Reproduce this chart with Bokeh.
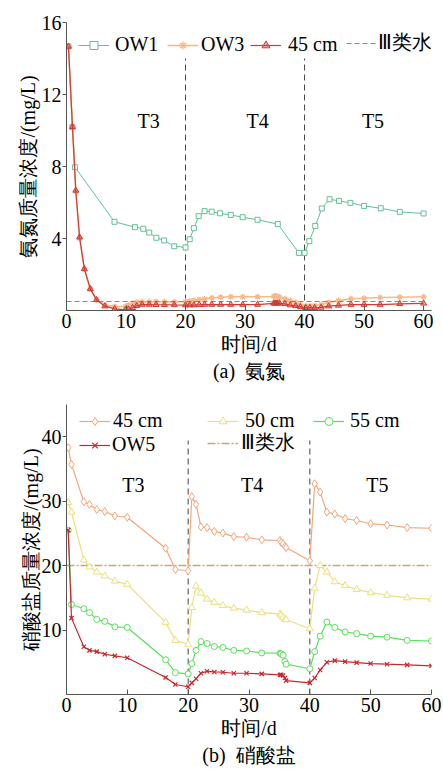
from bokeh.plotting import figure
from bokeh.models import Range1d, FixedTicker, Legend, LegendItem, Label
from bokeh.layouts import column
from bokeh.embed import file_html
from bokeh.resources import INLINE

SERIF = "Liberation Serif"
FS = "20px"

# ---------------- (a) ammonia nitrogen ----------------
ow1_day = [0.33, 1.0, 1.44, 8.06, 11.5, 12.9, 13.9, 15.1, 16.4, 18.1, 20.0, 20.7, 21.4,
           22.2, 23.2, 24.4, 25.8, 27.6, 29.6, 32.1, 35.5, 39.05, 40.0, 40.8, 41.8, 42.9,
           44.2, 45.8, 47.7, 50.0, 52.8, 56.0, 60.0]
ow1_nh4 = [14.67, 10.2, 7.96, 4.93, 4.63, 4.54, 4.33, 4.04, 3.89, 3.57, 3.5, 3.96, 4.57,
           5.24, 5.52, 5.49, 5.4, 5.31, 5.18, 5.04, 4.8, 3.2, 3.2, 3.85, 4.7, 5.67,
           6.18, 6.09, 5.98, 5.81, 5.68, 5.48, 5.39]
a_day = [0.33, 1.0, 1.56, 2.2, 3.0, 4.0, 5.05, 6.45, 8.1, 9.9, 10.4, 11.1, 11.8, 12.7,
         13.9, 15.05, 16.45, 18.1, 20.0, 20.7, 21.4, 22.3, 23.2, 24.4, 25.9, 27.6, 29.6,
         32.1, 34.8, 35.0, 35.2, 35.5, 35.8, 36.7, 37.6, 38.5, 39.3, 40.2, 40.9, 41.7,
         42.8, 44.05, 45.7, 47.8, 50.0, 52.7, 56.0, 60.0]
ow3_nh4 = [14.67, 10.2, 6.6, 4.0, 2.3, 1.2, 0.6, 0.3, 0.22, 0.22, 0.3, 0.4, 0.46, 0.48,
           0.48, 0.5, 0.48, 0.48, 0.5, 0.53, 0.56, 0.6, 0.64, 0.7, 0.74, 0.76, 0.76,
           0.76, 0.78, 0.8, 0.8, 0.78, 0.74, 0.65, 0.55, 0.45, 0.33, 0.26, 0.26, 0.27,
           0.33, 0.45, 0.55, 0.65, 0.68, 0.72, 0.74, 0.76]
cm45_nh4 = [14.67, 10.2, 6.67, 4.07, 2.31, 1.2, 0.59, 0.24, 0.09, 0.04, 0.07, 0.15, 0.26,
            0.33, 0.33, 0.32, 0.32, 0.31, 0.30, 0.30, 0.30, 0.32, 0.33, 0.33, 0.33, 0.33,
            0.33, 0.33, 0.40, 0.40, 0.40, 0.40, 0.40, 0.37, 0.30, 0.26, 0.20, 0.15, 0.15,
            0.15, 0.17, 0.24, 0.28, 0.33, 0.33, 0.33, 0.37, 0.40]
std_nh4 = 0.5

# ---------------- (b) nitrate ----------------
b_day = [0.28, 0.82, 2.85, 3.78, 4.98, 6.3, 7.95, 9.98, 16.3, 17.9, 20.0, 20.6, 21.3, 22.1,
         23.1, 24.3, 25.7, 27.5, 29.6, 32.1, 35.1, 35.3, 35.6, 35.9, 36.1, 40.0, 40.8, 41.7,
         42.8, 44.1, 45.8, 47.7, 50.0, 52.7, 56.0, 60.0]
cm45_no3 = [38.3, 35.7, 29.9, 29.5, 28.7, 28.4, 27.7, 27.5, 22.7, 19.4, 19.2, 30.7, 29.5,
            26.0, 25.9, 25.3, 25.05, 24.5, 24.4, 24.0, 23.9, 23.6, 23.4, 23.0, 22.8, 20.75,
            32.7, 31.4, 28.3, 28.0, 27.3, 27.0, 26.5, 26.3, 25.9, 25.8]
cm50_no3 = [29.8, 28.3, 20.9, 19.8, 19.0, 18.4, 17.6, 17.1, 11.2, 8.4, 7.8, 13.5, 16.8,
            15.75, 14.8, 14.3, 13.8, 13.4, 13.1, 12.7, 12.5, 12.3, 12.0, 11.7, 11.6, 10.2,
            16.5, 20.0, 19.0, 17.5, 16.9, 16.3, 15.8, 15.4, 15.0, 14.8]
cm55_no3 = [25.5, 13.96, 13.3, 12.7, 11.65, 11.35, 10.5, 10.4, 5.4, 3.4, 3.2, 4.8, 6.85,
            8.2, 7.9, 7.45, 7.3, 6.85, 6.75, 6.45, 6.4, 6.3, 6.1, 5.1, 4.7, 4.0, 6.65,
            9.05, 11.25, 10.4, 9.7, 9.45, 9.05, 8.9, 8.4, 8.3]
ow5_no3 = [25.5, 11.85, 7.4, 6.85, 6.65, 6.25, 6.0, 5.7, 2.65, 1.55, 1.2, 1.8, 2.45, 3.3,
           3.6, 3.5, 3.45, 3.3, 3.3, 3.2, 3.05, 3.05, 2.95, 2.55, 2.15, 1.8, 2.55, 3.8,
           5.0, 5.25, 5.1, 4.95, 4.8, 4.7, 4.6, 4.45]
std_no3 = 20

phase_bounds = [20, 40]
phase_names = ["T3", "T4", "T5"]
x_ticks = [0, 10, 20, 30, 40, 50, 60]
ya_ticks = [4, 8, 12, 16]
yb_ticks = [10, 20, 30, 40]
xlabel = "时间/d"
ya_label = "氨氮质量浓度/(mg/L)"
yb_label = "硝酸盐质量浓度/(mg/L)"
cap_a = "(a)\u00a0\u00a0氨氮"
cap_b = "(b)\u00a0\u00a0硝酸盐"


def style(p, xt, yt, ylab_standoff):
    p.outline_line_color = None
    p.grid.visible = False
    p.background_fill_color = "white"
    p.border_fill_color = "white"
    xa = p.xaxis[0]
    ya = p.yaxis[0]
    for ax in (xa, ya):
        ax.axis_line_color = "#555555"
        ax.major_tick_line_color = "#555555"
        ax.minor_tick_line_color = None
        ax.major_label_text_font = SERIF
        ax.major_label_text_font_size = FS
        ax.major_label_text_color = "black"
        ax.axis_label_text_font = SERIF
        ax.axis_label_text_font_size = FS
        ax.axis_label_text_font_style = "normal"
        ax.axis_label_text_color = "black"
    xa.ticker = FixedTicker(ticks=xt)
    ya.ticker = FixedTicker(ticks=yt)
    xa.major_tick_in = 5
    xa.major_tick_out = 0
    ya.major_tick_in = 0
    ya.major_tick_out = 4
    xa.major_label_standoff = 3
    ya.major_label_standoff = 1
    xa.axis_label_standoff = 2
    xa.axis_label_text_line_height = 1.25
    ya.axis_label_standoff = ylab_standoff


def add_leg(p, label, renderers, x, y, standoff):
    leg = Legend(items=[LegendItem(label=label, renderers=renderers)],
                 location=(x, y), orientation="horizontal", padding=0, margin=0,
                 spacing=0, glyph_width=31, glyph_height=20, label_height=20,
                 label_standoff=standoff, label_text_font=SERIF, label_text_font_size=FS,
                 label_text_color="black", background_fill_alpha=0, border_line_alpha=0)
    p.add_layout(leg, "center")


# ---------- figure (a) ----------
pa = figure(width=443, height=385, x_range=Range1d(0, 61.33), y_range=Range1d(0, 16),
            output_backend="svg", toolbar_location=None,
            min_border_left=64, min_border_right=11, min_border_top=22, min_border_bottom=75,
            x_axis_label=xlabel + "\n" + cap_a, y_axis_label=ya_label)
style(pa, x_ticks, ya_ticks, 0)

pa.segment(x0=phase_bounds, y0=[0] * len(phase_bounds), x1=phase_bounds,
           y1=[14] * len(phase_bounds), line_color="#444444", line_dash="6 4", line_width=1)

G1 = "#62C096"
O1 = "#F6B98A"
R1 = "#D23A34"
B1 = "#5A8FD8"

l_ow1 = pa.line(ow1_day, ow1_nh4, line_color=G1, line_width=1)
s_ow1 = pa.scatter(ow1_day, ow1_nh4, marker="square", size=5, line_color=G1, fill_color="white")
l_ow3 = pa.line(a_day, ow3_nh4, line_color=O1, line_width=1.6)
s_ow3 = pa.scatter(a_day, ow3_nh4, marker="asterisk", size=6, line_color=O1, line_width=1.3)
l_std_a = pa.line([0, 60], [std_nh4, std_nh4], line_color=B1, line_dash="5 3", line_width=1.2)
l_45a = pa.line(a_day, cm45_nh4, line_color=R1, line_width=1.2)
s_45a = pa.scatter(a_day, cm45_nh4, marker="triangle", size=6, line_color=R1,
                   fill_color=R1, fill_alpha=0.45)

for name, xx in zip(phase_names, [13.8, 32.1, 51.5]):
    pa.add_layout(Label(x=xx, y=10.55, text=name, text_align="center", text_baseline="middle",
                        text_font=SERIF, text_font_size=FS, text_color="black"))

add_leg(pa, "OW1", [l_ow1, s_ow1], 12, 254, 6)
add_leg(pa, "OW3", [l_ow3, s_ow3], 101, 254, 3)
add_leg(pa, "45 cm", [l_45a, s_45a], 184, 254, 7)
add_leg(pa, "Ⅲ类水", [l_std_a], 280, 254, 1)

# ---------- figure (b) ----------
pb = figure(width=443, height=384, x_range=Range1d(0, 60), y_range=Range1d(0, 45),
            output_backend="svg", toolbar_location=None,
            min_border_left=66, min_border_right=12, min_border_top=19, min_border_bottom=75,
            x_axis_label=xlabel + "\n" + cap_b, y_axis_label=yb_label)
style(pb, x_ticks, yb_ticks, -3)

pb.segment(x0=phase_bounds, y0=[0] * len(phase_bounds), x1=phase_bounds,
           y1=[39.4] * len(phase_bounds), line_color="#444444", line_dash="6 4", line_width=1)

C45 = "#F2A679"
C50 = "#ECE07C"
C55 = "#58E058"
C5 = "#C8282D"
CS = "#C8AA6E"

l_std_b = pb.line([0, 60], [std_no3, std_no3], line_color=CS, line_dash="8 2 2 2", line_width=1.5)
l_45b = pb.line(b_day, cm45_no3, line_color=C45, line_width=1.2)
s_45b = pb.scatter(b_day, cm45_no3, marker="diamond", size=8, line_color=C45, fill_color="white")
l_50b = pb.line(b_day, cm50_no3, line_color=C50, line_width=1.2)
s_50b = pb.scatter(b_day, cm50_no3, marker="triangle", size=7, line_color=C50, fill_color="white")
l_55b = pb.line(b_day, cm55_no3, line_color=C55, line_width=1.2)
s_55b = pb.scatter(b_day, cm55_no3, marker="circle", size=6, line_color=C55, fill_color="white")
l_ow5 = pb.line(b_day, ow5_no3, line_color=C5, line_width=1.2)
s_ow5 = pb.scatter(b_day, ow5_no3, marker="x", size=6, line_color=C5, line_width=1.2)

for name, xx in zip(phase_names, [11.0, 30.5, 51.1]):
    pb.add_layout(Label(x=xx, y=32.5, text=name, text_align="center", text_baseline="middle",
                        text_font=SERIF, text_font_size=FS, text_color="black"))

add_leg(pb, "45 cm", [l_45b, s_45b], 13, 262, 3)
add_leg(pb, "OW5", [l_ow5, s_ow5], 13, 238, 2)
add_leg(pb, "50 cm", [l_50b, s_50b], 141, 262, 7)
add_leg(pb, "Ⅲ类水", [l_std_b], 141, 238, 3)
add_leg(pb, "55 cm", [l_55b, s_55b], 247, 262, 6)

layout = column(pa, pb, spacing=0)
open("out.html", "w").write(file_html(layout, INLINE))
